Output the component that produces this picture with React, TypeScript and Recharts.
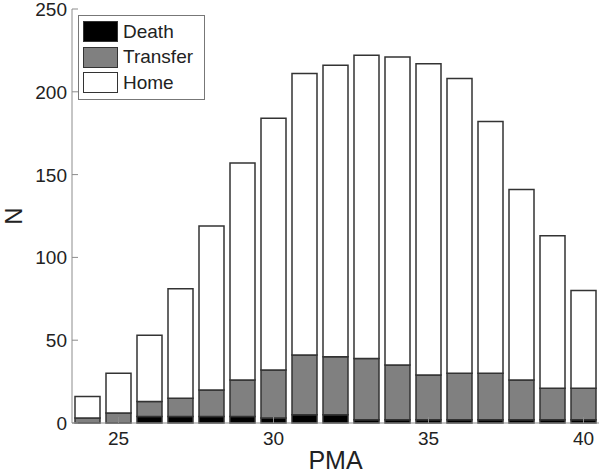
import { BarChart, Bar, XAxis, YAxis, Legend } from "recharts";

// PMA (weeks) on x, patient counts by outcome stacked
const pma = [24, 25, 26, 27, 28, 29, 30, 31, 32, 33, 34, 35, 36, 37, 38, 39, 40];
const death = [0, 0, 4, 4, 4, 4, 3, 5, 5, 2, 2, 2, 2, 2, 2, 2, 2];
const transfer = [3, 6, 9, 11, 16, 22, 29, 36, 35, 37, 33, 27, 28, 28, 24, 19, 19];
const home = [13, 24, 40, 66, 99, 131, 152, 170, 176, 183, 186, 188, 178, 152, 115, 92, 59];

const xTicks = [25, 30, 35, 40];
const yTicks = [0, 50, 100, 150, 200, 250];

const SERIES = [
    { key: "death", name: "Death", fill: "#000000" },
    { key: "transfer", name: "Transfer", fill: "#808080" },
    { key: "home", name: "Home", fill: "#ffffff" },
];

const data = pma.map((p, i) => ({
    pma: p,
    death: death[i],
    transfer: transfer[i],
    home: home[i],
}));

const FONT = "Arial, 'Liberation Sans', sans-serif";
const AXIS = "#8c8c8c";
const TEXT = "#222";
const TICK_LEN = 6;

function BottomTick(props: any) {
    const { x, y, payload } = props;
    return (
        <g>
            <line x1={x} y1={y} x2={x} y2={y - TICK_LEN} stroke={AXIS} />
            <text x={x} y={y + 22} textAnchor="middle" fontSize={19} fill={TEXT} fontFamily={FONT}>
                {payload.value}
            </text>
        </g>
    );
}

function LeftTick(props: any) {
    const { x, y, payload } = props;
    return (
        <g>
            <line x1={x} y1={y} x2={x + TICK_LEN} y2={y} stroke={AXIS} />
            <text x={x - 5} y={y + 7} textAnchor="end" fontSize={19} fill={TEXT} fontFamily={FONT}>
                {payload.value}
            </text>
        </g>
    );
}

function TopTick(props: any) {
    const { x, y } = props;
    return <line x1={x} y1={y} x2={x} y2={y + TICK_LEN} stroke={AXIS} />;
}

function RightTick(props: any) {
    const { x, y } = props;
    return <line x1={x} y1={y} x2={x - TICK_LEN} y2={y} stroke={AXIS} />;
}

function LegendBox() {
    return (
        <div
            style={{
                width: 125,
                height: 80,
                border: "1px solid #777",
                background: "#fff",
                boxSizing: "content-box",
                fontFamily: FONT,
                fontSize: 19,
                color: TEXT,
                paddingTop: 3,
            }}
        >
            {SERIES.map((s) => (
                <div
                    key={s.key}
                    style={{ display: "flex", alignItems: "center", height: 25.5, paddingLeft: 4 }}
                >
                    <div
                        style={{
                            width: 33,
                            height: 19,
                            background: s.fill,
                            border: "1px solid #333",
                            marginRight: 5,
                        }}
                    />
                    <span>{s.name}</span>
                </div>
            ))}
        </div>
    );
}

export default function App() {
    return (
        <div style={{ position: "absolute", left: 0, top: 0, background: "#fff" }}>
            <BarChart
                width={600}
                height={474}
                data={data}
                margin={{ top: 9, right: 1, left: 0, bottom: 0 }}
                barSize={25}
            >
                <XAxis
                    dataKey="pma"
                    type="number"
                    domain={[23.5, 40.5]}
                    ticks={xTicks}
                    allowDataOverflow
                    height={51}
                    stroke={AXIS}
                    tickLine={false}
                    tickSize={0}
                    tickMargin={0}
                    tick={<BottomTick />}
                    label={{
                        value: "PMA",
                        position: "insideBottom",
                        offset: 5,
                        fontSize: 25,
                        fill: TEXT,
                        fontFamily: FONT,
                    }}
                />
                <XAxis
                    xAxisId="top"
                    orientation="top"
                    type="number"
                    domain={[23.5, 40.5]}
                    ticks={xTicks}
                    height={0}
                    stroke={AXIS}
                    tickLine={false}
                    tickSize={0}
                    tickMargin={0}
                    tick={<TopTick />}
                />
                <YAxis
                    type="number"
                    domain={[0, 250]}
                    ticks={yTicks}
                    width={72}
                    stroke={AXIS}
                    tickLine={false}
                    tickSize={0}
                    tickMargin={0}
                    tick={<LeftTick />}
                    label={{
                        content: (p: any) => {
                            const vb = p.viewBox || { x: 0, y: 9, width: 72, height: 414 };
                            const cx = vb.x + 22;
                            const cy = vb.y + vb.height / 2;
                            return (
                                <text
                                    x={cx}
                                    y={cy}
                                    transform={`rotate(-90, ${cx}, ${cy})`}
                                    textAnchor="middle"
                                    fontSize={24}
                                    fill={TEXT}
                                    fontFamily={FONT}
                                >
                                    N
                                </text>
                            );
                        },
                    }}
                />
                <YAxis
                    yAxisId="right"
                    orientation="right"
                    type="number"
                    domain={[0, 250]}
                    ticks={yTicks}
                    width={0}
                    stroke={AXIS}
                    tickLine={false}
                    tickSize={0}
                    tickMargin={0}
                    tick={<RightTick />}
                />
                <Legend
                    layout="vertical"
                    align="center"
                    verticalAlign="middle"
                    content={<LegendBox />}
                    wrapperStyle={{ position: "absolute", left: 78, top: 15, width: "auto" }}
                />
                {SERIES.map((s) => (
                    <Bar
                        key={s.key}
                        dataKey={s.key}
                        name={s.name}
                        stackId="a"
                        fill={s.fill}
                        stroke="#333"
                        strokeWidth={1.5}
                        isAnimationActive={false}
                    />
                ))}
            </BarChart>
        </div>
    );
}
